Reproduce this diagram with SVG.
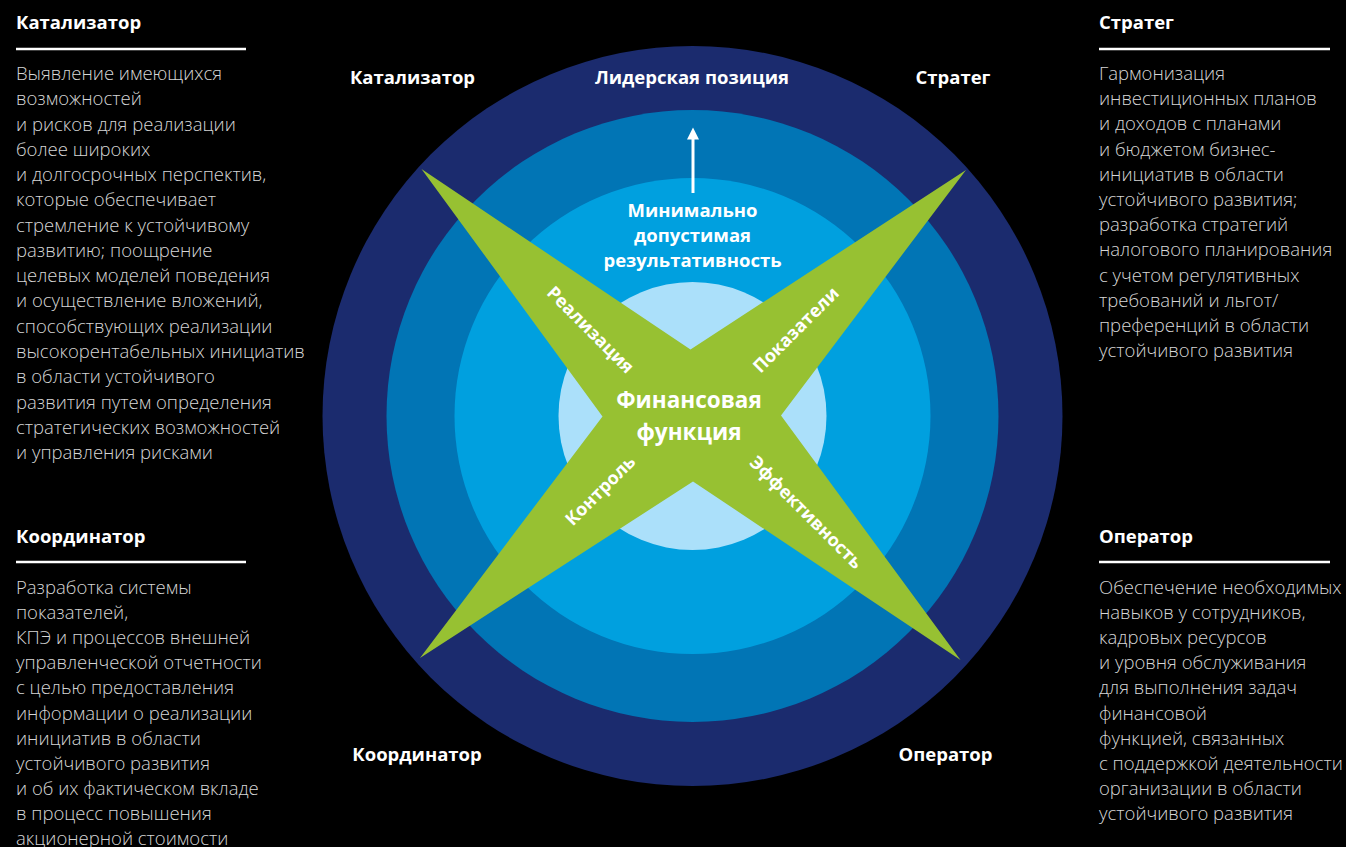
<svg xmlns="http://www.w3.org/2000/svg" width="1346" height="847" viewBox="0 0 1346 847">
<style>
.h{font-family:"Open Sans","Liberation Sans",sans-serif;font-weight:700;font-size:18.5px;fill:#fff}
.b{font-family:"Open Sans","Liberation Sans",sans-serif;font-weight:300;font-size:18.5px;fill:#d6d6d6}
.w{font-family:"Open Sans","Liberation Sans",sans-serif;font-weight:700;fill:#fff;text-anchor:middle}
.rl{stroke:#fff;stroke-width:2.5}
</style>
<rect width="1346" height="847" fill="#000"/>

<g id="rings">
<circle cx="692.5" cy="416" r="370" fill="#1b2b6e"/>
<circle cx="692.5" cy="416" r="306" fill="#0175b5"/>
<circle cx="692.5" cy="416" r="238" fill="#00a0df"/>
<circle cx="692.5" cy="416" r="134" fill="#abe0fa"/>
</g>

<g id="star">
<polygon points="421.5,169 690.5,349.5 966,170 781,415.5 960.5,660 693,481.5 420,658 602.5,416.5" fill="#97c132"/>
</g>

<g id="connectors">
<line x1="693" y1="193" x2="693" y2="139" stroke="#fff" stroke-width="3"/>
<path d="M687,139.5 L693,127.5 L699,139.5 Z" fill="#fff"/>
</g>

<g id="ring-labels">
<text class="w" x="412.5" y="84" font-size="18.5">Катализатор</text>
<text class="w" x="692" y="84" font-size="18.5">Лидерская позиция</text>
<text class="w" x="953" y="84" font-size="18.5">Стратег</text>
<text class="w" x="417" y="761" font-size="18.5">Координатор</text>
<text class="w" x="945.5" y="761" font-size="18.5">Оператор</text>
</g>

<g id="min-perf">
<text class="w" font-size="18.5"><tspan x="692.5" y="217">Минимально</tspan><tspan x="692.5" y="242">допустимая</tspan><tspan x="692.5" y="267">результативность</tspan></text>
</g>

<g id="center">
<text class="w" font-size="22.5"><tspan x="689" y="408">Финансовая</tspan><tspan x="689" y="440">функция</tspan></text>
</g>

<g id="arm-labels">
<text class="w" font-size="18" transform="translate(590.5,330) rotate(45)" y="6">Реализация</text>
<text class="w" font-size="18" transform="translate(796,330) rotate(-45)" y="6">Показатели</text>
<text class="w" font-size="18" transform="translate(600.5,490.5) rotate(-45)" y="6">Контроль</text>
<text class="w" font-size="18" transform="translate(806,512.5) rotate(45)" y="6">Эффективность</text>
</g>

<g id="catalyst">
<text class="h" x="16" y="29">Катализатор</text>
<line class="rl" x1="16" y1="49" x2="246" y2="49"/>
<text class="b">
<tspan x="16" y="80">Выявление имеющихся</tspan>
<tspan x="16" y="105.3">возможностей</tspan>
<tspan x="16" y="130.5">и рисков для реализации</tspan>
<tspan x="16" y="155.8">более широких</tspan>
<tspan x="16" y="181.1">и долгосрочных перспектив,</tspan>
<tspan x="16" y="206.4">которые обеспечивает</tspan>
<tspan x="16" y="231.6">стремление к устойчивому</tspan>
<tspan x="16" y="256.9">развитию; поощрение</tspan>
<tspan x="16" y="282.2">целевых моделей поведения</tspan>
<tspan x="16" y="307.4">и осуществление вложений,</tspan>
<tspan x="16" y="332.7">способствующих реализации</tspan>
<tspan x="16" y="358">высокорентабельных инициатив</tspan>
<tspan x="16" y="383.2">в области устойчивого</tspan>
<tspan x="16" y="408.5">развития путем определения</tspan>
<tspan x="16" y="433.8">стратегических возможностей</tspan>
<tspan x="16" y="459">и управления рисками</tspan>
</text>
</g>

<g id="strategist">
<text class="h" x="1099" y="29">Стратег</text>
<line class="rl" x1="1099" y1="49" x2="1330" y2="49"/>
<text class="b">
<tspan x="1099" y="80">Гармонизация</tspan>
<tspan x="1099" y="105.2">инвестиционных планов</tspan>
<tspan x="1099" y="130.4">и доходов с планами</tspan>
<tspan x="1099" y="155.6">и бюджетом бизнес-</tspan>
<tspan x="1099" y="180.8">инициатив в области</tspan>
<tspan x="1099" y="206">устойчивого развития;</tspan>
<tspan x="1099" y="231.2">разработка стратегий</tspan>
<tspan x="1099" y="256.4">налогового планирования</tspan>
<tspan x="1099" y="281.6">с учетом регулятивных</tspan>
<tspan x="1099" y="306.8">требований и льгот/</tspan>
<tspan x="1099" y="332">преференций в области</tspan>
<tspan x="1099" y="357.2">устойчивого развития</tspan>
</text>
</g>

<g id="coordinator">
<text class="h" x="16" y="543">Координатор</text>
<line class="rl" x1="16" y1="562" x2="246" y2="562"/>
<text class="b">
<tspan x="16" y="594">Разработка системы</tspan>
<tspan x="16" y="619.1">показателей,</tspan>
<tspan x="16" y="644.2">КПЭ и процессов внешней</tspan>
<tspan x="16" y="669.3">управленческой отчетности</tspan>
<tspan x="16" y="694.4">с целью предоставления</tspan>
<tspan x="16" y="719.5">информации о реализации</tspan>
<tspan x="16" y="744.6">инициатив в области</tspan>
<tspan x="16" y="769.7">устойчивого развития</tspan>
<tspan x="16" y="794.8">и об их фактическом вкладе</tspan>
<tspan x="16" y="819.9">в процесс повышения</tspan>
<tspan x="16" y="845">акционерной стоимости</tspan>
</text>
</g>

<g id="operator">
<text class="h" x="1099" y="543">Оператор</text>
<line class="rl" x1="1099" y1="562" x2="1330" y2="562"/>
<text class="b">
<tspan x="1099" y="594">Обеспечение необходимых</tspan>
<tspan x="1099" y="619.1">навыков у сотрудников,</tspan>
<tspan x="1099" y="644.2">кадровых ресурсов</tspan>
<tspan x="1099" y="669.3">и уровня обслуживания</tspan>
<tspan x="1099" y="694.4">для выполнения задач</tspan>
<tspan x="1099" y="719.5">финансовой</tspan>
<tspan x="1099" y="744.6">функцией, связанных</tspan>
<tspan x="1099" y="769.7">с поддержкой деятельности</tspan>
<tspan x="1099" y="794.8">организации в области</tspan>
<tspan x="1099" y="819.9">устойчивого развития</tspan>
</text>
</g>
</svg>
